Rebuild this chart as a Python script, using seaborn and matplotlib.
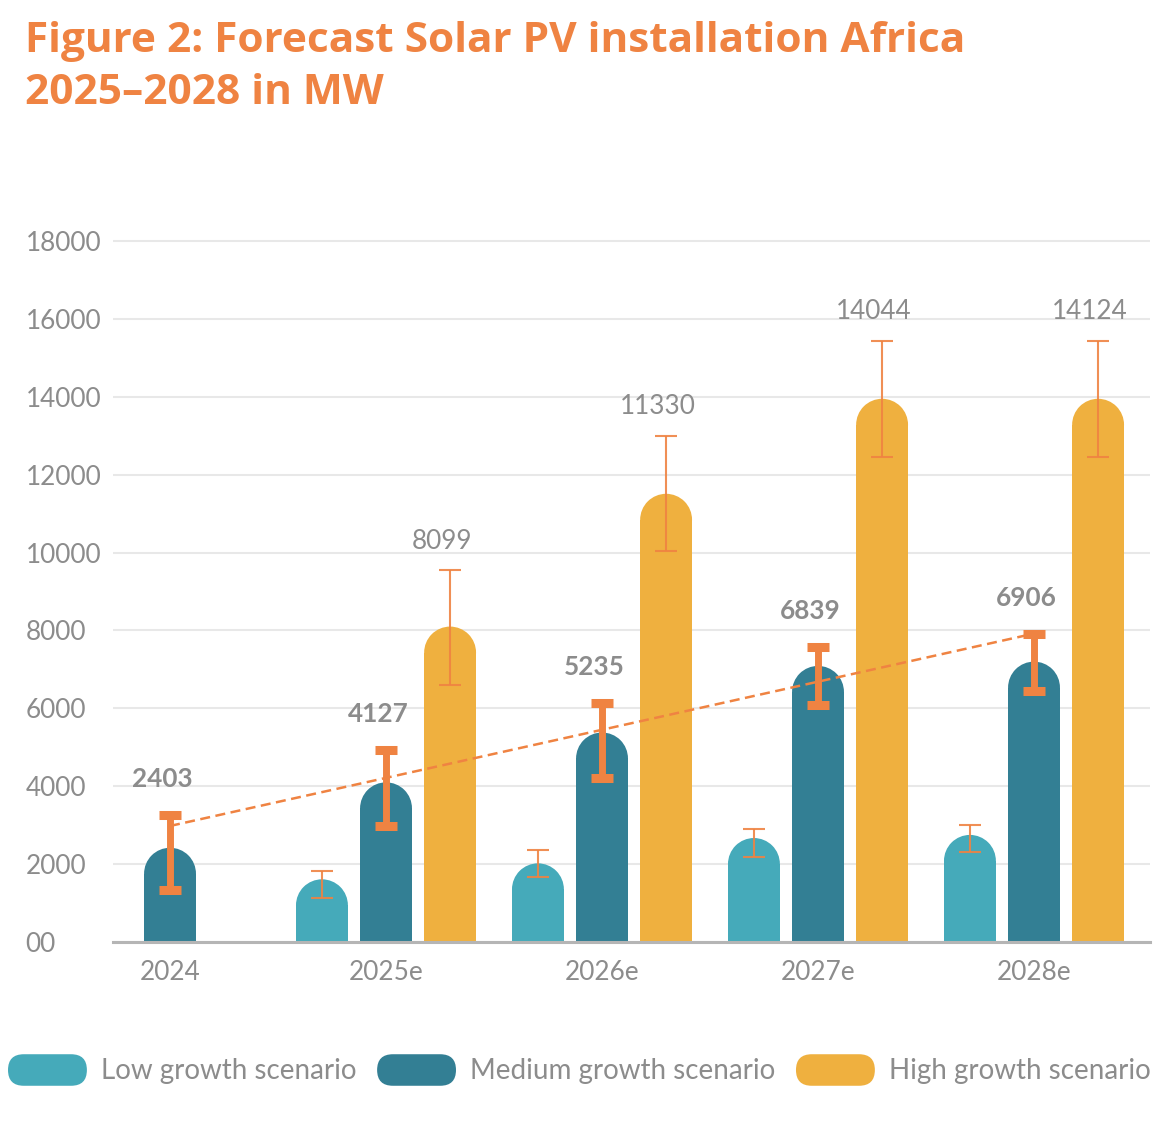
import numpy as np
import pandas as pd
import matplotlib
matplotlib.use("Agg")
import matplotlib.pyplot as plt
import seaborn as sns
from matplotlib.patches import Ellipse, FancyBboxPatch, Patch
from matplotlib.legend_handler import HandlerPatch

# ---------------- data ----------------
years = ["2024", "2025e", "2026e", "2027e", "2028e"]
scenarios = ["Low growth scenario", "Medium growth scenario", "High growth scenario"]

low_mw = [np.nan, 1610, 2020, 2670, 2750]
medium_mw = [2420, 4100, 5380, 7090, 7200]
high_mw = [np.nan, 8100, 11510, 13950, 13950]

low_err_lo = [np.nan, 1140, 1660, 2190, 2310]
low_err_hi = [np.nan, 1830, 2370, 2890, 3010]
medium_err_lo = [1340, 2980, 4200, 6090, 6440]
medium_err_hi = [3260, 4930, 6150, 7580, 7920]
high_err_lo = [np.nan, 6600, 10030, 12460, 12460]
high_err_hi = [np.nan, 9550, 13000, 15440, 15440]

medium_labels = ["2403", "4127", "5235", "6839", "6906"]
high_labels = ["", "8099", "11330", "14044", "14124"]

trend_mw = [2980, 7920]  # dashed trend from 2024 to 2028e (medium)

ytick_values = [0, 2000, 4000, 6000, 8000, 10000, 12000, 14000, 16000, 18000]
ytick_labels = ["00", "2000", "4000", "6000", "8000", "10000", "12000", "14000", "16000", "18000"]

title_lines = ["Figure 2: Forecast Solar PV installation Africa", "2025–2028 in MW"]

# ---------------- style ----------------
C_LOW = "#45AABA"
C_MED = "#337F94"
C_HIGH = "#EFB03F"
C_ORANGE = "#EF8342"
C_TEXT = "#8C8C8C"
C_GRID = "#E8E8E8"
C_AXIS = "#B5B5B5"

sns.set_style("white")
plt.rcParams["font.family"] = ["Lato", "DejaVu Sans"]

W, H = 1155, 1123
fig = plt.figure(figsize=(W / 100, H / 100), dpi=100)
ax_left, ax_right = 113, 1150
y0_px, ytop_px = 942, 229.4
ax = fig.add_axes([ax_left / W, 1 - y0_px / H, (ax_right - ax_left) / W, (y0_px - ytop_px) / H])

rows = []
for s, vals in zip(scenarios, [low_mw, medium_mw, high_mw]):
    for y, v in zip(years, vals):
        if np.isfinite(v):
            rows.append({"Year": y, "Scenario": s, "MW": v})
df = pd.DataFrame(rows)

sns.barplot(data=df, x="Year", y="MW", hue="Scenario", order=years, hue_order=scenarios,
            palette=[C_LOW, C_MED, C_HIGH], width=0.89, gap=0.19, saturation=1,
            errorbar=None, legend=False, ax=ax, zorder=2)

XMIN, XMAX = -0.264, 4.537
YMIN, YMAX = 0, 18300
ax.set_xlim(XMIN, XMAX)
ax.set_ylim(YMIN, YMAX)

# grid / spines / ticks
ax.set_yticks(ytick_values)
ax.set_yticklabels(ytick_labels)
ax.yaxis.grid(True, color=C_GRID, linewidth=1.5, zorder=0)
ax.xaxis.grid(False)
ax.set_axisbelow(True)
for side in ["top", "right", "left"]:
    ax.spines[side].set_visible(False)
ax.spines["bottom"].set_color(C_AXIS)
ax.spines["bottom"].set_linewidth(2.2)
ax.spines["bottom"].set_zorder(3)
ax.tick_params(axis="y", length=0, pad=63, labelsize=18.8, labelcolor=C_TEXT)
ax.tick_params(axis="x", length=0, pad=13, labelsize=18.8, labelcolor=C_TEXT)
for lab in ax.get_yticklabels():
    lab.set_horizontalalignment("left")
ax.set_xlabel("")
ax.set_ylabel("")

# rounded tops for bars
pos = ax.get_position()
ax_w_px = pos.width * W
ax_h_px = pos.height * H
slot = 0.89 / 3
centers = {}
for p in list(ax.patches):
    h = p.get_height()
    w = p.get_width()
    if not np.isfinite(h) or h <= 0:
        continue
    x = p.get_x()
    cx = x + w / 2
    cat = int(round(cx))
    k = int(round((cx - cat) / slot)) + 1
    centers[(cat, k)] = cx
    r_px = w / (XMAX - XMIN) * ax_w_px / 2
    r_y = r_px * (YMAX - YMIN) / ax_h_px
    p.set_height(h - r_y)
    p.set_linewidth(0)
    ax.add_patch(Ellipse((cx, h - r_y), w, 2 * r_y, facecolor=p.get_facecolor(),
                         edgecolor="none", linewidth=0, zorder=2))

# dashed trend line (medium scenario)
ax.plot([centers[(0, 1)], centers[(4, 1)]], trend_mw, color=C_ORANGE, lw=1.8,
        linestyle=(0, (4, 2.2)), zorder=3)

# error bars
err_sets = [(0, low_err_lo, low_err_hi, 1.5, 7.9, 1.5, 0.9),
            (1, medium_err_lo, medium_err_hi, 5.0, 7.6, 6.5, 1.0),
            (2, high_err_lo, high_err_hi, 1.5, 7.9, 1.5, 0.9)]
for k, lo, hi, elw, cap, capt, alpha in err_sets:
    xs, mids, half = [], [], []
    for i in range(len(years)):
        if (i, k) in centers and np.isfinite(lo[i]):
            xs.append(centers[(i, k)])
            mids.append((lo[i] + hi[i]) / 2)
            half.append((hi[i] - lo[i]) / 2)
    ax.errorbar(xs, mids, yerr=half, fmt="none", ecolor=C_ORANGE, elinewidth=elw,
                capsize=cap, capthick=capt, alpha=alpha, zorder=4)

# value labels
for i, txt in enumerate(medium_labels):
    ax.annotate(txt, xy=(centers[(i, 1)], medium_err_hi[i]), xytext=(-8, 36),
                textcoords="offset pixels", ha="center", va="center",
                fontsize=18.8, fontweight="bold", color=C_TEXT, zorder=5)
for i, txt in enumerate(high_labels):
    if txt:
        ax.annotate(txt, xy=(centers[(i, 2)], high_err_hi[i]), xytext=(-8, 29),
                    textcoords="offset pixels", ha="center", va="center",
                    fontsize=18.8, color=C_TEXT, zorder=5)

# title (Open Sans bold, sized so the first line spans the same width as the reference)
t1 = fig.text(25 / W, 1 - 52 / H, title_lines[0], ha="left", va="baseline",
              fontsize=29, fontweight="bold", color=C_ORANGE,
              family=["Open Sans", "DejaVu Sans"])
t2 = fig.text(25 / W, 1 - 104 / H, title_lines[1], ha="left", va="baseline",
              fontsize=29, fontweight="bold", color=C_ORANGE,
              family=["Open Sans", "DejaVu Sans"])
renderer = fig.canvas.get_renderer()
w1 = t1.get_window_extent(renderer).width
fs = 29 * 940 / w1
t1.set_fontsize(fs)
t2.set_fontsize(fs)

# legend with pill-shaped handles
def make_pill(legend, orig_handle, xdescent, ydescent, width, height, fontsize):
    return FancyBboxPatch((-xdescent, -ydescent), width, height,
                          boxstyle=f"round,pad=0,rounding_size={height / 2}")

handles = [Patch(facecolor=c, edgecolor="none") for c in [C_LOW, C_MED, C_HIGH]]
fig.legend(handles, scenarios, loc="center left", bbox_to_anchor=(8 / W, 1 - 1070 / H),
           ncol=3, frameon=False, fontsize=20, handlelength=2.84, handleheight=1.37,
           handletextpad=0.5, columnspacing=0.75, borderpad=0, borderaxespad=0,
           labelcolor=C_TEXT, handler_map={Patch: HandlerPatch(patch_func=make_pill)})

fig.savefig("out.png", dpi=100)
